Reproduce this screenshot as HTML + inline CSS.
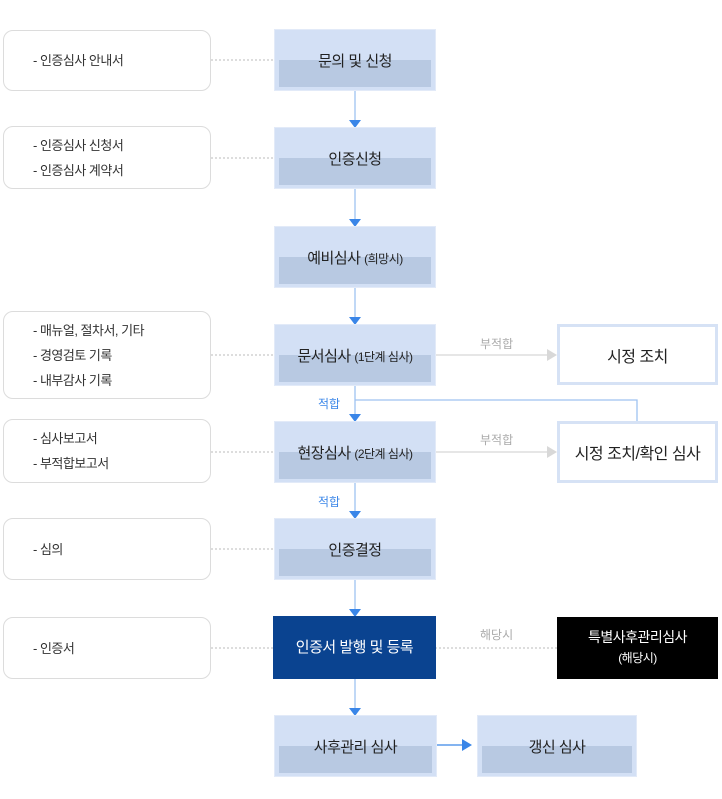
<!DOCTYPE html>
<html><head><meta charset="utf-8"><style>
*{margin:0;padding:0;box-sizing:border-box}
body{width:722px;height:799px;background:#fff;position:relative;overflow:hidden;font-family:"Liberation Sans","Noto Sans CJK KR",sans-serif;color:#222}
.m{position:absolute;left:274px;width:162px;height:62px;background:#d3e0f5;border:1px solid #e2eaf8}
.m::after{content:"";position:absolute;left:4px;right:4px;top:30px;bottom:3px;background:#b8c9e2}
.m span{position:absolute;left:0;right:0;top:2px;height:60px;line-height:60px;text-align:center;font-size:15px;z-index:1;letter-spacing:-0.5px}
.m small{font-size:12px}
.l{position:absolute;left:3px;width:208px;border:1px solid #dcdcdc;border-radius:10px;font-size:13px;color:#333;padding-left:29px;display:flex;flex-direction:column;justify-content:center;line-height:25px;letter-spacing:-0.5px}
.r{position:absolute;left:557px;width:161px;border:3px solid #d6e2f5;background:#fff;text-align:center;font-size:16px;display:flex;align-items:center;justify-content:center;letter-spacing:-0.5px}
.t{position:absolute;font-size:12px;color:#aaa}
.b{color:#3a86e8}
svg{position:absolute;left:0;top:0}
</style></head><body>
<svg width="722" height="799">
<g stroke="#9fc2f0" stroke-width="1.3" fill="none">
<line x1="355" y1="91" x2="355" y2="120"/>
<line x1="355" y1="189" x2="355" y2="219"/>
<line x1="355" y1="288" x2="355" y2="317"/>
<line x1="355" y1="386" x2="355" y2="414"/>
<polyline points="355,400 637,400 637,421"/>
<line x1="355" y1="483" x2="355" y2="511"/>
<line x1="355" y1="580" x2="355" y2="609"/>
<line x1="355" y1="678" x2="355" y2="708"/>
</g>
<line x1="436" y1="745" x2="462" y2="745" stroke="#3a86e8" stroke-width="1.3"/>
<g fill="#3a86e8">
<polygon points="349,120 361,120 355,128"/>
<polygon points="349,219 361,219 355,227"/>
<polygon points="349,317 361,317 355,325"/>
<polygon points="349,414 361,414 355,422"/>
<polygon points="349,511 361,511 355,519"/>
<polygon points="349,609 361,609 355,617"/>
<polygon points="349,708 361,708 355,716"/>
<polygon points="462,739 462,751 472,745"/>
</g>
<g stroke="#d8d8d8" stroke-width="1.2">
<line x1="436" y1="355" x2="547" y2="355"/>
<line x1="436" y1="452" x2="547" y2="452"/>
</g>
<g fill="#d8d8d8">
<polygon points="547,349 547,361 557,355"/>
<polygon points="547,446 547,458 557,452"/>
</g>
<g stroke="#bbb" stroke-width="1" stroke-dasharray="2,2">
<line x1="211" y1="60" x2="274" y2="60"/>
<line x1="211" y1="158" x2="274" y2="158"/>
<line x1="211" y1="355" x2="274" y2="355"/>
<line x1="211" y1="452" x2="274" y2="452"/>
<line x1="211" y1="549" x2="274" y2="549"/>
<line x1="211" y1="648" x2="274" y2="648"/>
<line x1="435" y1="648" x2="557" y2="648"/>
</g>
</svg>

<div class="l" style="top:30px;height:61px">- 인증심사 안내서</div>
<div class="l" style="top:126px;height:63px">- 인증심사 신청서<br>- 인증심사 계약서</div>
<div class="l" style="top:311px;height:88px">- 매뉴얼, 절차서, 기타<br>- 경영검토 기록<br>- 내부감사 기록</div>
<div class="l" style="top:419px;height:64px">- 심사보고서<br>- 부적합보고서</div>
<div class="l" style="top:518px;height:62px">- 심의</div>
<div class="l" style="top:617px;height:62px">- 인증서</div>

<div class="m" style="top:29px"><span>문의 및 신청</span></div>
<div class="m" style="top:127px"><span>인증신청</span></div>
<div class="m" style="top:226px"><span>예비심사 <small>(희망시)</small></span></div>
<div class="m" style="top:324px"><span>문서심사 <small>(1단계 심사)</small></span></div>
<div class="m" style="top:421px"><span>현장심사 <small>(2단계 심사)</small></span></div>
<div class="m" style="top:518px"><span>인증결정</span></div>
<div style="position:absolute;left:273px;top:616px;width:163px;height:63px;background:#0a4390;color:#fff;font-size:15px;line-height:63px;text-align:center;letter-spacing:-0.5px">인증서 발행 및 등록</div>
<div class="m" style="top:715px;width:163px"><span>사후관리 심사</span></div>
<div class="m" style="top:715px;left:477px;width:160px"><span>갱신 심사</span></div>

<div class="r" style="top:324px;height:61px">시정 조치</div>
<div class="r" style="top:421px;height:62px">시정 조치/확인 심사</div>
<div style="position:absolute;left:557px;top:617px;width:161px;height:62px;background:#000;color:#fff;text-align:center;font-size:14px;padding-top:10px;line-height:20px;letter-spacing:-0.5px">특별사후관리심사<br><span style="font-size:12px">(해당시)</span></div>

<div class="t" style="left:480px;top:335px">부적합</div>
<div class="t" style="left:480px;top:431px">부적합</div>
<div class="t" style="left:480px;top:626px">해당시</div>
<div class="t b" style="left:318px;top:395px">적합</div>
<div class="t b" style="left:318px;top:493px">적합</div>
</body></html>
